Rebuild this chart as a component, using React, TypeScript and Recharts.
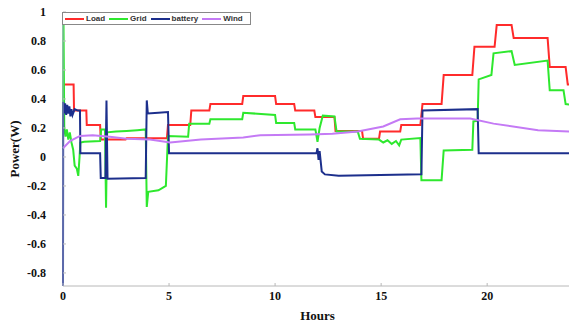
import { Line, LineChart, XAxis, YAxis } from "recharts";

// hours on the x axis, power (W) on the y axis
const loadHours = [0, 0.5, 0.52, 1.1, 1.12, 1.75, 1.78, 2.95, 3.0, 4.9, 4.95, 6.0, 6.05, 6.9, 6.95, 8.45, 8.5, 10.0, 10.05, 10.9, 10.95, 11.85, 11.9, 12.8, 12.85, 14.1, 14.15, 14.9, 14.95, 15.9, 15.95, 16.85, 16.95, 17.85, 17.95, 19.3, 19.4, 20.35, 20.45, 21.15, 21.25, 22.85, 22.95, 23.7, 23.8, 24];
const loadValues = [0.5, 0.5, 0.32, 0.32, 0.22, 0.22, 0.12, 0.12, 0.13, 0.13, 0.22, 0.22, 0.32, 0.32, 0.365, 0.365, 0.42, 0.42, 0.365, 0.365, 0.32, 0.32, 0.275, 0.275, 0.18, 0.18, 0.125, 0.125, 0.175, 0.175, 0.22, 0.22, 0.365, 0.365, 0.565, 0.565, 0.76, 0.76, 0.91, 0.91, 0.82, 0.82, 0.62, 0.62, 0.5, 0.5];

const gridHours = [0, 0.02, 0.06, 0.12, 0.18, 0.25, 0.32, 0.4, 0.48, 0.55, 0.65, 0.72, 0.78, 0.82, 1.0, 1.75, 1.8, 1.98, 2.03, 2.08, 2.5, 3.0, 3.5, 3.9, 3.95, 4.02, 4.5, 4.85, 4.95, 5.9, 5.95, 6.9, 6.95, 8.45, 8.5, 10.0, 10.05, 10.9, 10.95, 11.9, 12.0, 12.1, 12.25, 12.8, 12.9, 13.9, 14.0, 14.9, 15.1, 15.3, 15.5, 15.7, 15.85, 15.95, 16.85, 16.9, 17.85, 17.95, 19.3, 19.35, 19.55, 19.6, 20.2, 20.3, 21.15, 21.3, 22.85, 22.95, 23.6, 23.7, 24];
const gridValues = [0.05, 1.0, 0.2, 0.14, 0.19, 0.12, 0.17, 0.1, 0.05, -0.06, -0.08, -0.13, 0.0, 0.1, 0.105, 0.11, 0.19, 0.19, -0.35, 0.17, 0.175, 0.18, 0.185, 0.19, -0.345, -0.24, -0.23, -0.2, 0.145, 0.14, 0.23, 0.23, 0.26, 0.26, 0.305, 0.29, 0.235, 0.235, 0.19, 0.19, 0.105, 0.2, 0.285, 0.28, 0.175, 0.175, 0.125, 0.12, 0.1, 0.115, 0.09, 0.11, 0.08, 0.12, 0.13, -0.16, -0.16, 0.045, 0.05, 0.245, 0.25, 0.535, 0.565, 0.715, 0.73, 0.635, 0.665, 0.46, 0.46, 0.365, 0.36];

const batteryHours = [0, 0.01, 0.05, 0.1, 0.15, 0.2, 0.25, 0.3, 0.35, 0.4, 0.45, 0.55, 0.7, 0.8, 0.82, 1.75, 1.78, 2.0, 2.05, 2.1, 3.9, 3.95, 4.0, 4.5, 4.95, 5.0, 11.95, 12.0, 12.05, 12.1, 12.2, 12.35, 13.0, 16.9, 16.95, 19.55, 19.6, 24];
const batteryValues = [-0.9, 0.38, 0.3, 0.37, 0.29, 0.36, 0.3, 0.35, 0.28, 0.33, 0.29, 0.33, 0.32, 0.32, 0.025, 0.025, -0.145, -0.145, 0.39, -0.15, -0.145, 0.39, 0.3, 0.305, 0.31, 0.025, 0.025, 0.06, -0.02, 0.04, -0.1, -0.12, -0.13, -0.12, 0.32, 0.33, 0.025, 0.025];

const windHours = [0, 0.33, 0.8, 1.4, 2.2, 3.0, 4.1, 5.05, 6.5, 8.5, 9.3, 11.65, 12.7, 13.9, 15.1, 15.9, 16.7, 19.2, 20.3, 22.4, 24];
const windValues = [0.06, 0.11, 0.145, 0.15, 0.14, 0.125, 0.12, 0.1, 0.12, 0.135, 0.15, 0.155, 0.16, 0.175, 0.21, 0.26, 0.265, 0.265, 0.23, 0.185, 0.175];

const xTicks = [0, 5, 10, 15, 20];
const yTicks = [-0.8, -0.6, -0.4, -0.2, 0, 0.2, 0.4, 0.6, 0.8, 1];

const zip = (hs: number[], vs: number[]) => hs.map((h, i) => ({ h, v: vs[i] }));

const series = [
  { name: "Load", color: "#ff2b2b", data: zip(loadHours, loadValues) },
  { name: "Grid", color: "#2ee82e", data: zip(gridHours, gridValues) },
  { name: "battery", color: "#1c2f8c", data: zip(batteryHours, batteryValues) },
  { name: "Wind", color: "#c47af5", data: zip(windHours, windValues) },
];

const serif = "'Liberation Serif', 'Times New Roman', serif";
const tickStyle = { fill: "#111", fontSize: 12, fontWeight: 700, fontFamily: serif };

function ChartLegend() {
  return (
    <div
      style={{
        position: "absolute",
        left: 62,
        top: 12,
        height: 11,
        display: "flex",
        alignItems: "center",
        border: "1px solid #888",
        background: "#fff",
        padding: "0 3px 0 2px",
        fontFamily: "'Liberation Sans', Arial, sans-serif",
        fontSize: 8,
        fontWeight: 700,
        color: "#333",
        lineHeight: "11px",
      }}
    >
      {series.map((s) => (
        <div key={s.name} style={{ display: "flex", alignItems: "center", marginRight: 4 }}>
          <span style={{ display: "inline-block", width: 19, height: 2, background: s.color, marginRight: 2 }} />
          {s.name}
        </div>
      ))}
    </div>
  );
}

export default function App() {
  return (
    <div style={{ position: "absolute", left: 0, top: 0, width: 569, height: 323, overflow: "hidden", background: "#fff" }}>
      <LineChart width={572} height={323} margin={{ top: 12, right: 0, left: 0, bottom: 0 }}>
        <XAxis
          xAxisId="top"
          orientation="top"
          dataKey="h"
          type="number"
          domain={[0, 24]}
          ticks={xTicks}
          tick={false}
          height={0}
          tickSize={-3}
          axisLine={{ stroke: "#dcdcdc" }}
          tickLine={{ stroke: "#bbb" }}
        />
        <XAxis
          dataKey="h"
          type="number"
          domain={[0, 24]}
          ticks={xTicks}
          tick={tickStyle}
          height={37}
          tickSize={-3}
          tickMargin={8}
          axisLine={{ stroke: "#b8b8b8" }}
          tickLine={{ stroke: "#b8b8b8" }}
          label={{ value: "Hours", position: "insideBottom", offset: 3, style: { ...tickStyle, fontSize: 13 } }}
        />
        <YAxis
          type="number"
          domain={[-0.89, 1]}
          ticks={yTicks}
          allowDataOverflow
          width={63}
          tick={tickStyle}
          tickFormatter={(v: number) => String(Math.round(v * 10) / 10)}
          tickSize={-3}
          tickMargin={20}
          axisLine={{ stroke: "#9aa3c8" }}
          tickLine={{ stroke: "#bbb" }}
          label={() => (
            <text
              x={14}
              y={149}
              transform="rotate(-90 14 149)"
              textAnchor="middle"
              dominantBaseline="central"
              style={{ ...tickStyle, fontSize: 13 }}
            >
              Power(W)
            </text>
          )}
        />
        {series.map((s) => (
          <Line
            key={s.name}
            data={s.data}
            dataKey="v"
            name={s.name}
            type="linear"
            stroke={s.color}
            strokeWidth={2}
            dot={false}
            isAnimationActive={false}
          />
        ))}
      </LineChart>
      <ChartLegend />
    </div>
  );
}
